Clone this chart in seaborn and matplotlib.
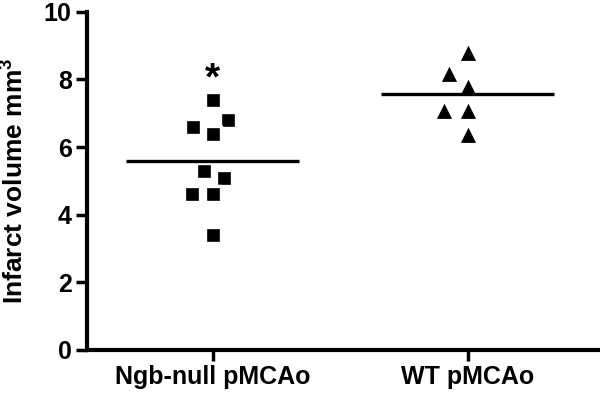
import numpy as np
import pandas as pd
import matplotlib
matplotlib.use('Agg')
import matplotlib.pyplot as plt
import seaborn as sns

# values
groups = ['Ngb-null pMCAo', 'WT pMCAo']
ngb_null = [7.4, 6.6, 6.8, 6.4, 5.3, 5.1, 4.6, 4.6, 3.4]
wt = [8.8, 8.2, 7.8, 7.1, 7.1, 6.4]
markers = ['s', '^']

df = pd.DataFrame({
    'group': [groups[0]] * len(ngb_null) + [groups[1]] * len(wt),
    'volume': ngb_null + wt,
})

sns.set_style('ticks')
plt.rcParams['font.family'] = ['Liberation Sans', 'DejaVu Sans']
plt.rcParams['font.weight'] = 'bold'
plt.rcParams['mathtext.fontset'] = 'custom'
plt.rcParams['mathtext.bf'] = 'Liberation Sans:bold'
plt.rcParams['mathtext.rm'] = 'Liberation Sans:bold'
for k in ['text.color', 'axes.labelcolor', 'xtick.color', 'ytick.color', 'axes.edgecolor']:
    plt.rcParams[k] = 'black'

fig = plt.figure(figsize=(6, 3.95), dpi=100)
ax = fig.add_axes([0.145, 0.114, 0.855, 0.856])

# white edge keeps the swarm spaced a bit wider than the black marks
for i, g in enumerate(groups):
    sub = df[df['group'] == g]
    sns.swarmplot(data=sub, x='group', y='volume', order=groups, marker=markers[i],
                  color='black', edgecolor='white',
                  linewidth=2.4 if i == 0 else 1.9,
                  size=12 if i == 0 else 14, ax=ax)

# mean lines
means = df.groupby('group')['volume'].mean()
for i, g in enumerate(groups):
    ax.hlines(means[g], i - 0.34, i + 0.34, color='black', lw=2.4, zorder=5)

# significance star
ax.text(0, max(ngb_null) + 0.6, '*', ha='center', va='center',
        fontsize=28, fontweight='bold')

ax.set_xlim(-0.494, 1.52)
ax.set_ylim(0, 10)
ax.set_yticks(np.arange(0, 11, 2))
ax.set_xlabel('')
ax.set_ylabel('Infarct volume mm$^{3}$', fontsize=19, fontweight='bold', labelpad=12)

for s in ['top', 'right']:
    ax.spines[s].set_visible(False)
for s in ['left', 'bottom']:
    ax.spines[s].set_linewidth(3)
ax.tick_params(width=2.5, length=8, labelsize=18, pad=3)
for lab in ax.get_xticklabels() + ax.get_yticklabels():
    lab.set_fontweight('bold')

fig.savefig('out.png', dpi=100)
